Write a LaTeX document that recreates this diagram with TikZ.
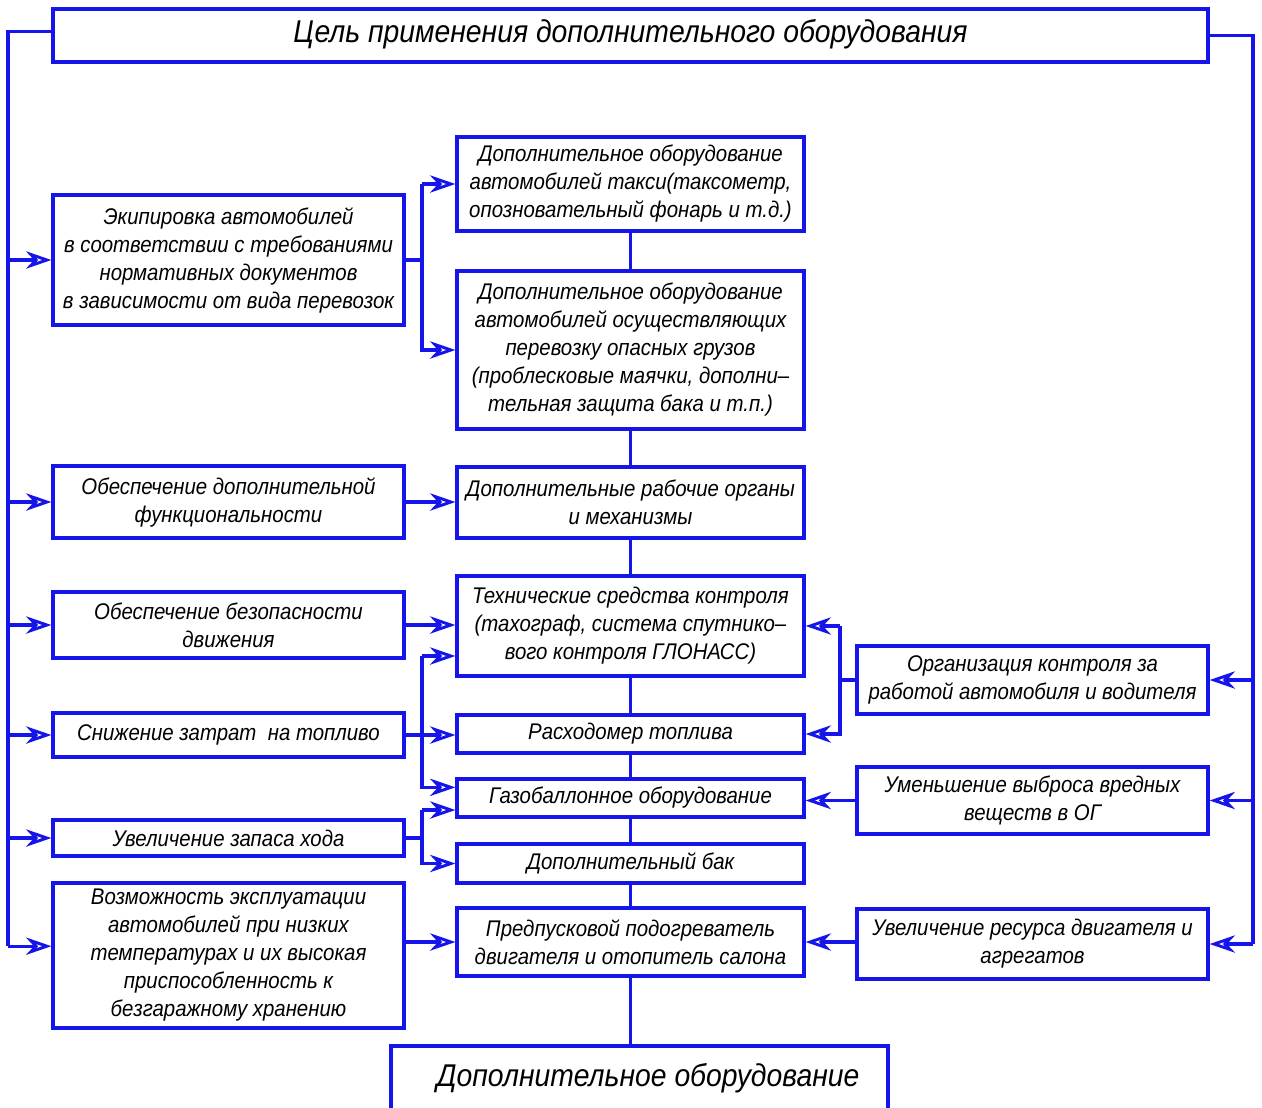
\documentclass[tikz,border=0pt]{standalone}
\usepackage{fontspec}
\newfontfamily\gost{Liberation Sans}[FakeStretch=0.9]
\usetikzlibrary{arrows.meta,fit}
\definecolor{lineblue}{RGB}{20,20,235}
\begin{document}
\begin{tikzpicture}[x=0.75pt,y=-0.75pt,
  box/.style={draw=lineblue,line width=2.4pt,inner sep=0pt},
  txt/.style={align=center,text=black,inner sep=0pt,
    font=\gost\itshape\fontsize{17}{21}\selectfont},
  bigtxt/.style={txt,font=\gost\itshape\fontsize{23.6}{28}\selectfont},
  wire/.style={draw=lineblue,line width=2.4pt},
  arr/.style={wire,-{Stealth[open,length=19pt,width=13pt,inset=6pt,line width=2.2pt]}}]
\fill[white] (0,0) rectangle (1262,1107);
\useasboundingbox (0,0) rectangle (1262,1107);

% title and bottom
\node[box,fit={(53,9)(1208,62)}] (T) {};
\node[bigtxt] (Tt) at ([yshift=1pt]T.center) {Цель применения дополнительного оборудования};
\begin{scope}
\clip (0,0) rectangle (1262,1107);
\node[box,fit={(391,1046)(888,1112)}] (B) {};
\end{scope}
\node[bigtxt] (Bt) at (648,1078) {Дополнительное оборудование};

% left column
\node[box,fit={(53,195)(404,325)}] (L1) {};
\node[txt] (L1t) at (L1.center) {Экипировка автомобилей\\в соответствии с требованиями\\нормативных документов\\в зависимости от вида перевозок};
\node[box,fit={(53,466)(404,538)}] (L2) {};
\node[txt] (L2t) at (L2.center) {Обеспечение дополнительной\\функциональности};
\node[box,fit={(53,592)(404,658)}] (L3) {};
\node[txt] (L3t) at (L3.center) {Обеспечение безопасности\\движения};
\node[box,fit={(53,713)(404,757)}] (L4) {};
\node[txt] (L4t) at (L4.center) {Снижение затрат\ \ на топливо};
\node[box,fit={(53,820)(404,856)}] (L5) {};
\node[txt] (L5t) at (L5.center) {Увеличение запаса хода};
\node[box,fit={(53,883)(404,1028)}] (L6) {};
\node[txt] (L6t) at (L6.center) {Возможность эксплуатации\\автомобилей при низких\\температурах и их высокая\\приспособленность к\\безгаражному хранению};

% middle column
\node[box,fit={(457,137)(804,231)}] (M1) {};
\node[txt] (M1t) at (M1.center) {Дополнительное оборудование\\автомобилей такси(таксометр,\\опозновательный фонарь и т.д.)};
\node[box,fit={(457,271)(804,429)}] (M2) {};
\node[txt] (M2t) at (M2.center) {Дополнительное оборудование\\автомобилей осуществляющих\\перевозку опасных грузов\\(проблесковые маячки, дополни–\\тельная защита бака и т.п.)};
\node[box,fit={(457,467)(804,538)}] (M3) {};
\node[txt] (M3t) at (M3.center) {Дополнительные рабочие органы\\и механизмы};
\node[box,fit={(457,576)(804,676)}] (M4) {};
\node[txt] (M4t) at (M4.center) {Технические средства контроля\\(тахограф, система спутнико–\\вого контроля ГЛОНАСС)};
\node[box,fit={(457,715)(804,753)}] (M5) {};
\node[txt] (M5t) at (M5.center) {Расходомер топлива};
\node[box,fit={(457,779)(804,817)}] (M6) {};
\node[txt] (M6t) at (M6.center) {Газобаллонное оборудование};
\node[box,fit={(457,844)(804,883)}] (M7) {};
\node[txt] (M7t) at (M7.center) {Дополнительный бак};
\node[box,fit={(457,908)(804,976)}] (M8) {};
\node[txt] (M8t) at (M8.center) {Предпусковой подогреватель\\двигателя и отопитель салона};

% right column
\node[box,fit={(857,646)(1208,714)}] (R1) {};
\node[txt] (R1t) at (R1.center) {Организация контроля за\\работой автомобиля и водителя};
\node[box,fit={(857,767)(1208,834)}] (R2) {};
\node[txt] (R2t) at (R2.center) {Уменьшение выброса вредных\\веществ в ОГ};
\node[box,fit={(857,909)(1208,979)}] (R3) {};
\node[txt] (R3t) at (R3.center) {Увеличение ресурса двигателя и\\агрегатов};

% helper coordinates
\coordinate (lx) at (8,0);
\coordinate (rx) at (1253,0);
\coordinate (bl) at (422,0);
\coordinate (br) at (840,0);
\coordinate (tw) at ([yshift=3pt]T.west);
\coordinate (l6a) at ([yshift=7pt]L6.west);
\coordinate (m4a) at ([yshift=-22.5pt]M4.west);
\coordinate (m6a) at ([yshift=8pt]M6.west);
\coordinate (m6b) at ([yshift=-9pt]M6.west);

% left trunk
\draw[wire] (tw) -- (tw -| lx) -- (lx |- l6a);
\foreach \n in {L1,L2,L3,L4,L5}{\draw[arr] (lx |- \n.west) -- (\n.west);}
\draw[arr] (lx |- l6a) -- (l6a);

% right trunk
\draw[wire] (T.east) -- (T.east -| rx) -- (rx |- R3.east);
\foreach \n in {R1,R2,R3}{\draw[arr] (rx |- \n.east) -- (\n.east);}

% central chain
\draw[wire] (M1.south) -- (M2.north);
\draw[wire] (M2.south) -- (M3.north);
\draw[wire] (M3.south) -- (M4.north);
\draw[wire] (M4.south) -- (M5.north);
\draw[wire] (M5.south) -- (M6.north);
\draw[wire] (M6.south) -- (M7.north);
\draw[wire] (M7.south) -- (M8.north);
\draw[wire] (M8.south) -- (M8.south |- B.north);

% L1 branches
\draw[wire] (L1.east) -- (bl |- L1.east);
\draw[arr] (bl |- M1.west) -- (M1.west);
\draw[arr] (bl |- M1.west) -- (bl |- M2.west) -- (M2.west);

% L2, L3
\draw[arr] (L2.east) -- (L2.east -| M3.west);
\draw[arr] (L3.east) -- (L3.east -| M4.west);

% L4 branches
\draw[arr] (L4.east) -- (L4.east -| M5.west);
\draw[arr] (bl |- m4a) -- (m4a);
\draw[arr] (bl |- m4a) -- (bl |- m6a) -- (m6a);

% L5 branches
\draw[wire] (L5.east) -- (bl |- L5.east);
\draw[arr] (bl |- m6b) -- (m6b);
\draw[arr] (bl |- m6b) -- (bl |- M7.west) -- (M7.west);

% L6
\draw[arr] (L6.east |- M8.west) -- (M8.west);

% R1 branches
\draw[wire] (R1.west) -- (br |- R1.west);
\draw[arr] (br |- M4.east) -- (M4.east);
\draw[arr] (br |- M4.east) -- (br |- M5.east) -- (M5.east);

% R2, R3
\draw[arr] (R2.west) -- (R2.west -| M6.east);
\draw[arr] (R3.west |- M8.east) -- (M8.east);
\end{tikzpicture}
\end{document}
